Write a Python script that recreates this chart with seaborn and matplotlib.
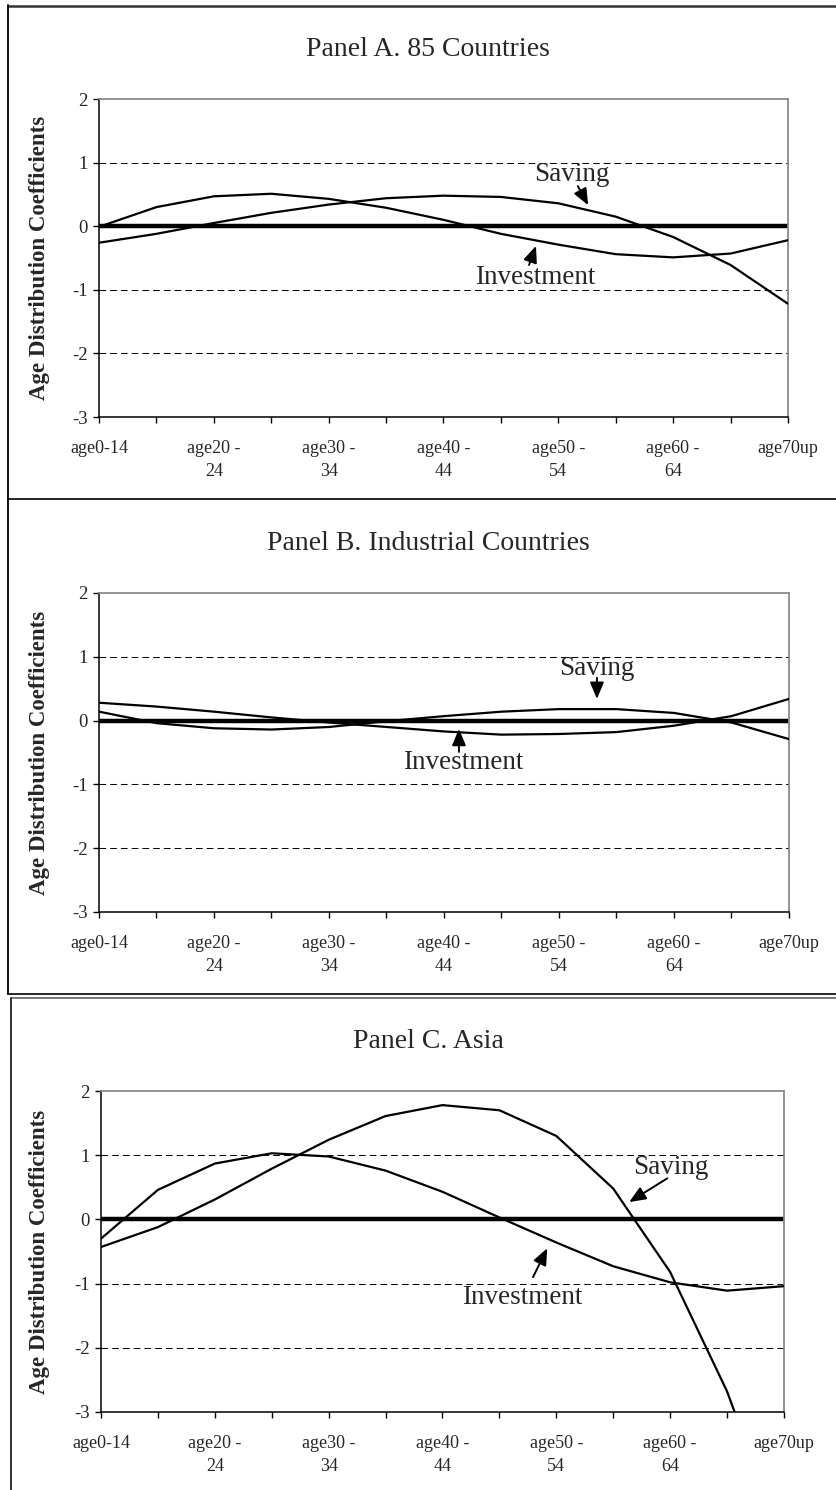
import numpy as np
import pandas as pd
import matplotlib
matplotlib.use("Agg")
import matplotlib.pyplot as plt
from matplotlib.lines import Line2D
import seaborn as sns

# ---------------- data ----------------
categories = ["age0-14", "age15-19", "age20-24", "age25-29", "age30-34", "age35-39",
              "age40-44", "age45-49", "age50-54", "age55-59", "age60-64", "age65-69",
              "age70up"]
tick_labels = ["age0-14", "", "age20 -\n24", "", "age30 -\n34", "", "age40 -\n44", "",
               "age50 -\n54", "", "age60 -\n64", "", "age70up"]
y_ticks = [-3, -2, -1, 0, 1, 2]

titles = ["Panel A. 85 Countries", "Panel B. Industrial Countries", "Panel C. Asia"]

saving_a = [-0.26, -0.12, 0.05, 0.21, 0.34, 0.44, 0.48, 0.46, 0.36, 0.15, -0.17, -0.61, -1.22]
invest_a = [-0.01, 0.30, 0.47, 0.51, 0.43, 0.29, 0.10, -0.12, -0.29, -0.44, -0.49, -0.43, -0.22]

saving_b = [0.14, -0.04, -0.12, -0.14, -0.10, -0.01, 0.07, 0.14, 0.18, 0.18, 0.12, -0.03, -0.29]
invest_b = [0.28, 0.22, 0.14, 0.05, -0.03, -0.10, -0.17, -0.22, -0.21, -0.18, -0.08, 0.07, 0.34]

saving_c = [-0.43, -0.12, 0.31, 0.79, 1.24, 1.61, 1.78, 1.70, 1.30, 0.48, -0.82, -2.68, -5.10]
invest_c = [-0.30, 0.46, 0.87, 1.03, 0.98, 0.76, 0.43, 0.03, -0.36, -0.73, -0.98, -1.11, -1.04]

panels = [(saving_a, invest_a), (saving_b, invest_b), (saving_c, invest_c)]

# ---------------- style ----------------
sns.set_style("white")
plt.rcParams['font.family'] = ['Liberation Serif', 'DejaVu Serif']

W, H = 837, 1490
fig = plt.figure(figsize=(W / 100, H / 100), dpi=100)

def fx(px):
    return px / W

def fy(py):
    return 1 - py / H

# axes rectangles in pixel coords (left, top, right, bottom)
rects = [(99, 99, 788, 417), (99, 593, 789, 912), (101, 1091, 784, 1412)]
title_y = [50, 543, 1042]

# annotation specs (text xy, arrow tail, arrow tip) in data coords
ann = [
    {"sav": ((8.24, 0.82), (8.34, 0.63), (8.52, 0.33)),
     "inv": ((7.60, -0.80), (7.49, -0.61), (7.61, -0.31))},
    {"sav": ((8.66, 0.82), (8.66, 0.67), (8.66, 0.34)),
     "inv": ((6.33, -0.66), (6.26, -0.49), (6.26, -0.13))},
    {"sav": ((10.02, 0.81), (9.95, 0.64), (9.28, 0.27)),
     "inv": ((7.40, -1.21), (7.59, -0.90), (7.84, -0.45))},
]

x_idx = np.arange(len(categories))

for i, ((sav, inv), (l, t, r, b)) in enumerate(zip(panels, rects)):
    ax = fig.add_axes([fx(l), fy(b), fx(r) - fx(l), (b - t) / H])
    df = pd.DataFrame({"x": np.concatenate([x_idx, x_idx]),
                       "value": sav + inv,
                       "series": ["Saving"] * len(sav) + ["Investment"] * len(inv)})
    ax.axhline(0, color="black", lw=3.2, zorder=1)
    for g in [-2, -1, 1]:
        ax.axhline(g, color="black", lw=0.75, ls=(0, (6.4, 3.9)), zorder=0.5)
    sns.lineplot(data=df, x="x", y="value", hue="series", palette=["black", "black"],
                 linewidth=1.6, legend=False, ax=ax, zorder=3)
    ax.set_xlim(0, len(categories) - 1)
    ax.set_ylim(-3, 2)
    ax.set_xticks(x_idx)
    ax.set_xticklabels(tick_labels, fontsize=13, linespacing=1.5)
    ax.set_yticks(y_ticks)
    ax.set_yticklabels([str(v) for v in y_ticks], fontsize=13.5)
    ax.set_xlabel("")
    ax.set_ylabel("")
    ax.tick_params(axis="x", direction="out", length=4.5, width=1, pad=12, color="black",
                   bottom=True)
    ax.tick_params(axis="y", direction="out", length=4, width=1, pad=4, color="black",
                   left=True)
    for side in ["top", "right"]:
        ax.spines[side].set_color("#8a8a8a")
        ax.spines[side].set_linewidth(1.3)
    for side in ["left", "bottom"]:
        ax.spines[side].set_color("black")
        ax.spines[side].set_linewidth(1.1)
    for key, label in [("sav", "Saving"), ("inv", "Investment")]:
        txt, tail, tip = ann[i][key]
        ax.text(txt[0], txt[1], label, fontsize=19.5, ha="center", va="center", zorder=5)
        ax.annotate("", xy=tip, xytext=tail,
                    arrowprops=dict(arrowstyle="-|>,head_length=1.0,head_width=0.42",
                                    color="black", lw=1.4, shrinkA=0, shrinkB=0),
                    zorder=5)
    fig.text(fx(428), fy(title_y[i]), titles[i], fontsize=20, ha="center", va="center")
    fig.text(fx(40), fy((t + b) / 2), "Age Distribution Coefficients", fontsize=16.5,
             fontweight="bold", rotation=90, ha="center", va="center")

# panel borders
def hline(y, x0, x1, color="#222222", lw=1.4):
    fig.add_artist(Line2D([fx(x0), fx(x1)], [fy(y), fy(y)], color=color, lw=lw))

def vline(x, y0, y1, color="#222222", lw=1.4):
    fig.add_artist(Line2D([fx(x), fx(x)], [fy(y0), fy(y1)], color=color, lw=lw))

hline(5.5, 8, 837, color="#333333", lw=1.8)
vline(8.5, 5, 994, color="#111111")
hline(499, 8, 837, color="black", lw=1.2)
hline(994, 8, 837, color="black", lw=1.2)
hline(998, 11, 837, color="#777777", lw=1.4)
vline(11, 998, 1490, color="#333333")

fig.savefig("out.png", dpi=100)
